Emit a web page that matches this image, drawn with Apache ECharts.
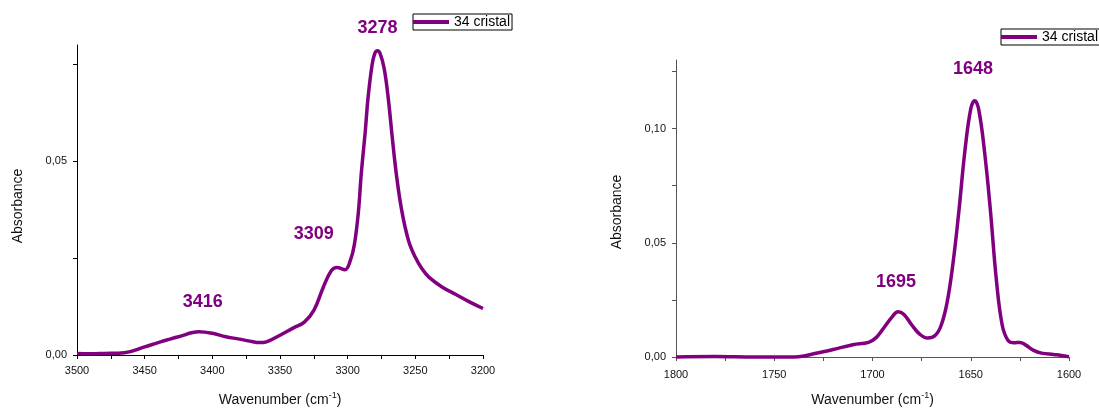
<!DOCTYPE html>
<html><head><meta charset="utf-8">
<script src="https://cdn.jsdelivr.net/npm/echarts@6/dist/echarts.min.js"></script>
<style>html,body{margin:0;padding:0;background:#fff}#c{width:1099px;height:412px}</style>
</head><body><div id="c"></div>
<script>
// ---- Left panel: 3500-3200 cm-1 ----
const wavenumbersA = [3500,3490,3480,3465,3450,3440,3425,3410,3400,3390,3380,3370,3365,3360,3350,3340,3332,3325,3318,3312,3308,3302,3298,3295,3292,3290,3287,3285,3282,3280,3278,3276,3273,3270,3267,3264,3260,3255,3250,3245,3240,3230,3220,3210,3200];
const absorbanceA = [0.0004,0.0003,0.0004,0.0006,0.0021,0.0032,0.0047,0.006,0.0056,0.0047,0.0041,0.0034,0.0032,0.0034,0.0051,0.007,0.0085,0.0115,0.0175,0.0218,0.0226,0.022,0.0244,0.0286,0.0372,0.0466,0.0577,0.0662,0.0748,0.0778,0.0785,0.0778,0.0739,0.0662,0.056,0.0466,0.0372,0.0295,0.0252,0.0222,0.0201,0.0175,0.0156,0.0137,0.012];
const xTickValuesA = [3200,3225,3250,3275,3300,3325,3350,3375,3400,3425,3450,3475,3500];
const xLabelValuesA = [3200,3250,3300,3350,3400,3450,3500];
const yTickValuesA = [0,0.025,0.05,0.075];
const yLabelValuesA = [0,0.05];
const peakTextA = ['3416','3309','3278'];
const peakWnA = [3407,3325,3278];
const peakYA = [0.0137,0.0312,0.0785];
const peakLiftA = [0,0,23];

// ---- Right panel: 1800-1600 cm-1 ----
const wavenumbersB = [1800,1780,1760,1740,1735,1730,1720,1710,1702,1698,1695,1690,1687,1684,1680,1676,1672,1668,1665,1662,1659,1656,1653,1650,1648,1646,1643,1640,1637,1634,1631,1628,1625,1622,1618,1614,1608,1604,1600];
const absorbanceB = [0,0.0002,0,0,0.0004,0.0014,0.0033,0.0054,0.0064,0.0086,0.0119,0.0176,0.0198,0.0186,0.014,0.01,0.0083,0.0095,0.014,0.024,0.0413,0.0642,0.09,0.1086,0.1122,0.1086,0.09,0.0642,0.0341,0.014,0.0072,0.0062,0.0064,0.0052,0.0029,0.0017,0.0011,0.0007,0.0001];
const xTickValuesB = [1600,1625,1650,1675,1700,1725,1750,1775,1800];
const xLabelValuesB = [1600,1650,1700,1750,1800];
const yTickValuesB = [0,0.025,0.05,0.075,0.1,0.125];
const yLabelValuesB = [0,0.05,0.1];
const peakTextB = ['1695','1648'];
const peakWnB = [1688,1648.8];
const peakYB = [0.0327,0.1262];
const peakLiftB = [0,0];

const seriesName = '34 cristal';
const yName = 'Absorbance';

const FONT = '"Liberation Sans", Arial, sans-serif';
const PURPLE = '#800080';

function pairs(xs, ys){ return xs.map((x,i)=>[x, ys[i]]); }
function fmtY(v){ return v.toFixed(2).replace('.', ','); }

function xAxis(gi, min, max, ticks, labels, color, margin, gap){
  return {
    gridIndex: gi, type:'value', min:min, max:max, interval:50, inverse:true,
    axisLine:{show:true, onZero:false, lineStyle:{color:color, width:1}},
    axisTick:{show:true, inside:false, length:4, customValues:ticks, lineStyle:{color:color}},
    axisLabel:{customValues:labels, fontSize:11, color:'#111', margin:margin, fontFamily:FONT, formatter:v=>String(v)},
    splitLine:{show:false},
    name: '{n|Wavenumber (cm}{s|-1}{n|)}', nameLocation:'middle', nameGap:gap,
    nameTextStyle:{fontFamily:FONT, color:'#111', rich:{
      n:{fontSize:14, fontFamily:FONT, color:'#111', lineHeight:18},
      s:{fontSize:9, fontFamily:FONT, color:'#111', verticalAlign:'top', lineHeight:10}
    }}
  };
}
function yAxis(gi, max, ticks, labels, color, shift){
  return {
    gridIndex: gi, type:'value', min:0, max:max,
    axisLine:{show:true, lineStyle:{color:color, width:1}},
    axisTick:{show:true, inside:false, length:4, customValues:ticks, lineStyle:{color:color}},
    axisLabel:{customValues:labels, fontSize:11, color:'#111', margin:10, fontFamily:FONT, formatter:fmtY},
    splitLine:{show:false},
    name: yName, nameLocation:'middle', nameGap:52, nameRotate:90,
    nameTextStyle:{fontSize:14, fontFamily:FONT, color:'#111', padding:[0, shift, 0, 0]}
  };
}
function peaks(texts, xs, ys, lifts){
  return {
    symbol:'circle', symbolSize:0, silent:true, animation:false,
    label:{show:true, position:'inside', formatter:'{b}', color:PURPLE, fontSize:18, fontWeight:'bold', fontFamily:FONT},
    data: texts.map((t,i)=>({name:t, coord:[xs[i], ys[i]], label:{offset:[0, -lifts[i]]}}))
  };
}
function legend(left, top){
  return {
    left:left, top:top, data:[seriesName], icon:'rect', itemWidth:36, itemHeight:4,
    borderColor:'#000', borderWidth:1, padding:[1,2,1,0], itemGap:0, selectedMode:false,
    textStyle:{fontSize:14, color:'#000', fontFamily:FONT}
  };
}

const chart = echarts.init(document.getElementById('c'), null, {renderer:'canvas'});
chart.setOption({
  animation:false,
  backgroundColor:'#fff',
  legend:[legend(413, 14), legend(1001, 29)],
  grid:[{left:77, top:45, width:406, height:315}, {left:676, top:60, width:393, height:303}],
  xAxis:[xAxis(0, 3200, 3500, xTickValuesA, xLabelValuesA, '#000', 10, 36), xAxis(1, 1600, 1800, xTickValuesB, xLabelValuesB, '#555', 12, 34)],
  yAxis:[yAxis(0, 0.08, yTickValuesA, yLabelValuesA, '#000', 12), yAxis(1, 0.13, yTickValuesB, yLabelValuesB, '#555', 7)],
  series:[
    {name:seriesName, type:'line', xAxisIndex:0, yAxisIndex:0, data:pairs(wavenumbersA, absorbanceA),
     showSymbol:false, smooth:0.4, clip:false, lineStyle:{color:PURPLE, width:3.5}, itemStyle:{color:PURPLE},
     markPoint:peaks(peakTextA, peakWnA, peakYA, peakLiftA)},
    {name:seriesName, type:'line', xAxisIndex:1, yAxisIndex:1, data:pairs(wavenumbersB, absorbanceB),
     showSymbol:false, smooth:0.4, clip:false, lineStyle:{color:PURPLE, width:3.5}, itemStyle:{color:PURPLE},
     markPoint:peaks(peakTextB, peakWnB, peakYB, peakLiftB)}
  ]
});
</script></body></html>
